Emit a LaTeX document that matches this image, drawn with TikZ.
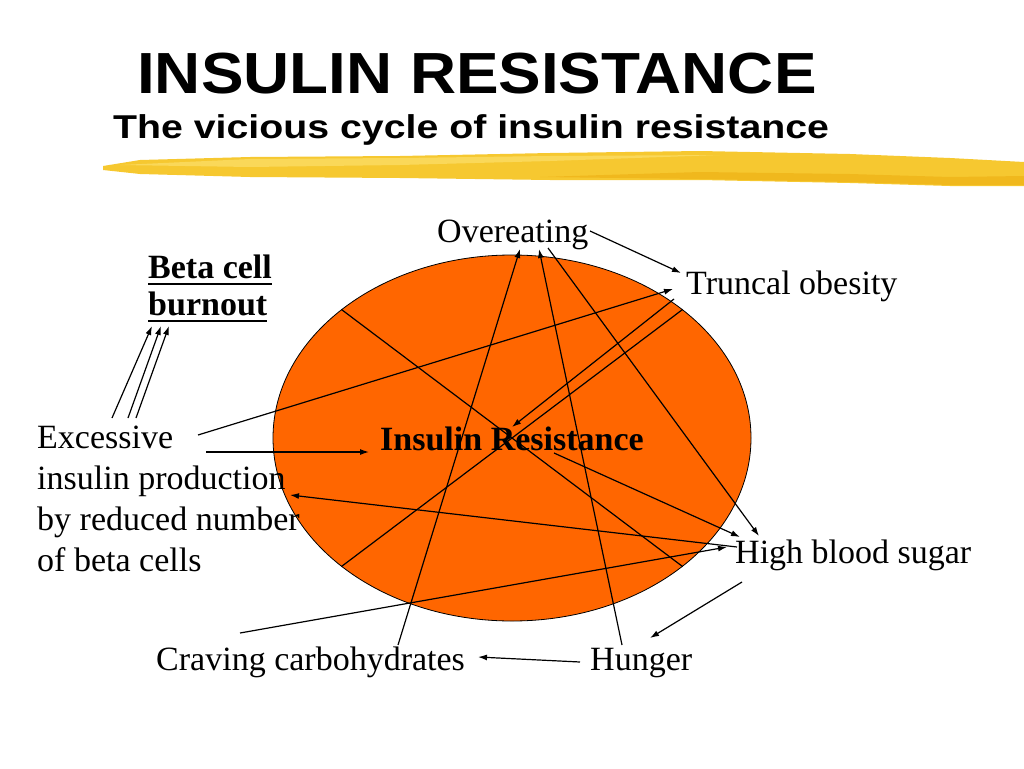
\documentclass[tikz,border=0pt]{standalone}
\usepackage{fontspec}
\setmainfont{Liberation Serif}
\newfontfamily\headfont{Liberation Sans}
\usetikzlibrary{arrows.meta,shapes.geometric}

\definecolor{cycleorange}{RGB}{255,102,0}
\definecolor{brushyellow}{RGB}{246,200,48}
\definecolor{brushlight}{RGB}{251,220,100}
\definecolor{brushdark}{RGB}{238,178,22}

\newcommand{\ulbar}[1]{\setbox0\hbox{#1}\rlap{\rule[-7pt]{\wd0}{2.5pt}}\box0}

\tikzset{
  lbl/.style={inner sep=0pt, anchor=base west, font=\fontsize{34}{41}\selectfont},
  lblb/.style={lbl, font=\fontsize{34}{41}\selectfont\bfseries},
  title/.style={inner sep=0pt, anchor=base west, font=\headfont\bfseries\fontsize{58}{62}\selectfont},
  subtitle/.style={inner sep=0pt, anchor=base west, font=\headfont\bfseries\fontsize{33}{36}\selectfont},
  arr/.style={-{Latex[length=9pt,width=6pt]}, line width=1.2pt},
  chord/.style={line width=1.2pt}
}

\begin{document}
\begin{tikzpicture}[x=1pt,y=-1pt]
  \useasboundingbox (0,0) rectangle (1024,768);

  % brush stroke under the heading
  \fill[brushyellow] (103,166) -- (140,160) -- (250,157) -- (400,156) -- (550,153) -- (700,151) -- (850,154) -- (950,158) -- (1024,162)
    -- (1024,186) -- (950,186) -- (850,183) -- (700,180) -- (550,180) -- (400,178) -- (250,177) -- (140,174) -- (103,170) -- cycle;
  \fill[brushlight, opacity=0.8] (120,165) -- (250,159) -- (400,158) -- (550,156) -- (720,155) -- (550,161) -- (400,165) -- (250,167) -- cycle;
  \fill[brushdark, opacity=0.7] (540,177) -- (700,172) -- (850,174) -- (950,177) -- (1024,176) -- (1024,185) -- (950,185) -- (850,182) -- (700,179) -- cycle;

  \node[title] (head) at (137,93) {\scalebox{1.1}[1]{INSULIN RESISTANCE}};
  \node[subtitle] (subhead) at (113,138) {\scalebox{1.19}[1]{The vicious cycle of insulin resistance}};

  \node[ellipse, draw, fill=cycleorange, minimum width=478pt, minimum height=366pt, inner sep=0pt, line width=0.8pt] (ell) at (512,438) {};

  \node[lbl]  (over)    at (437,242) {Overeating};
  \node[lbl]  (trunc)   at (686,294) {Truncal obesity};
  \node[lblb] (beta1)   at (148,278) {\ulbar{Beta cell}};
  \node[lblb] (beta2)   at (148,315) {\ulbar{burnout}};
  \node[lbl]  (exc1)    at (37,448)  {Excessive};
  \node[lbl]  (exc2)    at (37,489)  {insulin production};
  \node[lbl]  (exc3)    at (37,530)  {by reduced number};
  \node[lbl]  (exc4)    at (37,571)  {of beta cells};
  \node[lblb] (ir)      at (380,450) {Insulin Resistance};
  \node[lbl]  (hbs)     at (735,563) {High blood sugar};
  \node[lbl]  (crave)   at (156,670) {Craving carbohydrates};
  \node[lbl]  (hunger)  at (590,670) {Hunger};

  % chords through the middle
  \draw[chord] (ell.37) -- (ell.217);
  \draw[chord] (ell.143) -- (ell.323);

  \draw[arr] ([shift={(153,-11)}]over.base west) -- ([shift={(-5,-21)}]trunc.base west);
  \draw[arr] ([shift={(161,-13)}]exc1.base west) -- ([shift={(-13,-5)}]trunc.base west);
  \draw[arr] ([shift={(169,4)}]exc1.base west) -- ([shift={(-11,2)}]ir.base west);
  \draw[arr] ([shift={(-12,5)}]trunc.base west) -- ([shift={(132,-23)}]ir.base west);

  \draw[arr] ([shift={(242,-25)}]crave.base west) -- ([shift={(83,7)}]over.base west);
  \draw[arr] ([shift={(32,-25)}]hunger.base west) -- ([shift={(102,7)}]over.base west);
  \draw[arr] ([shift={(111,6)}]over.base west) -- ([shift={(24,-27)}]hbs.base west);
  \draw[arr] ([shift={(174,3)}]ir.base west) -- ([shift={(5,-26)}]hbs.base west);

  \draw[arr] ([shift={(2,-16)}]hbs.base west) -- ([shift={(253,6)}]exc2.base west);
  \draw[arr] ([shift={(84,-37)}]crave.base west) -- ([shift={(-8,-16)}]hbs.base west);
  \draw[arr] ([shift={(7,19)}]hbs.base west) -- ([shift={(60,-32)}]hunger.base west);
  \draw[arr] ([shift={(-10,-8)}]hunger.base west) -- ([shift={(322,-13)}]crave.base west);

  \draw[arr] ([shift={(75,-30)}]exc1.base west) -- ([shift={(4,11)}]beta2.base west);
  \draw[arr] ([shift={(91,-30)}]exc1.base west) -- ([shift={(13,11)}]beta2.base west);
  \draw[arr] ([shift={(99,-30)}]exc1.base west) -- ([shift={(21,11)}]beta2.base west);
\end{tikzpicture}
\end{document}
